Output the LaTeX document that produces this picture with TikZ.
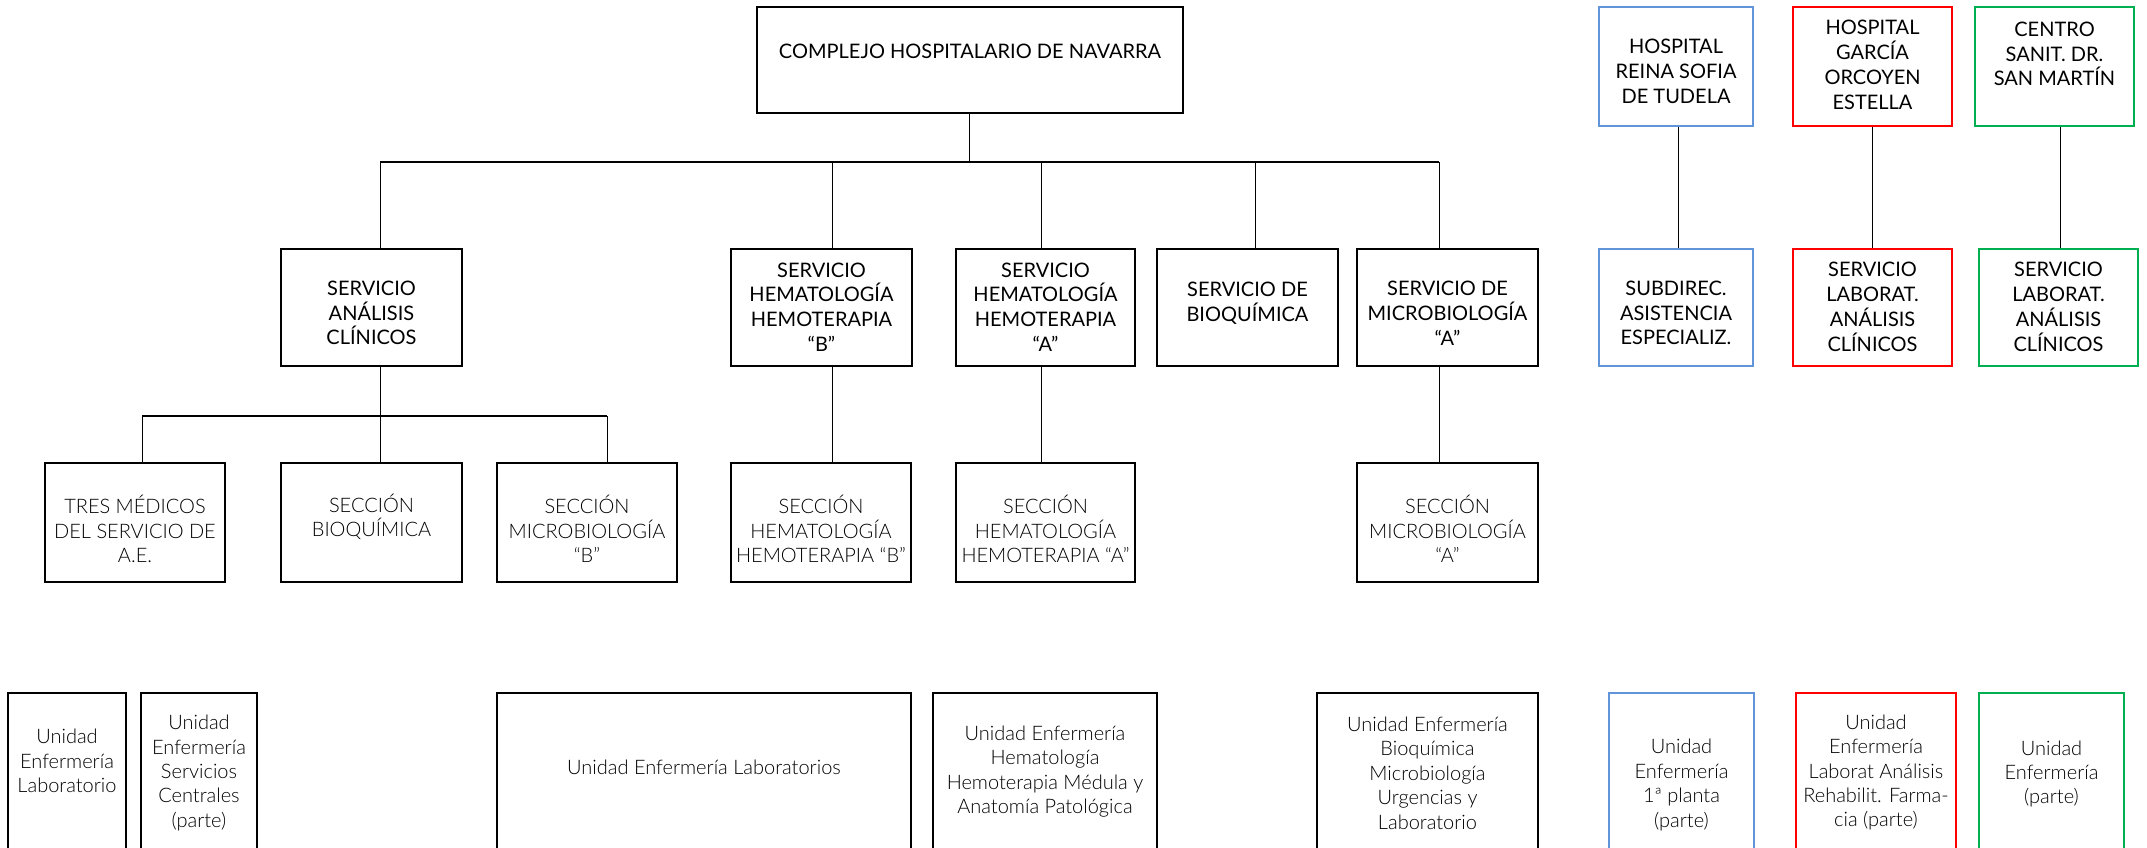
\documentclass[tikz,border=0pt]{standalone}
\usepackage{fontspec}
\setmainfont{Lato}
\newfontfamily\lightfont{Lato Light}
\definecolor{cblue}{RGB}{98,148,218}
\definecolor{cred}{RGB}{255,0,0}
\definecolor{cgreen}{RGB}{0,176,80}
\tikzset{
  box/.style={draw=black, line width=0.9pt, inner sep=0pt, minimum height=#1},
  box/.default=58.5pt,
  txt/.style={align=center, inner sep=0pt, font=\fontsize{10}{12.4}\selectfont},
  ltxt/.style={align=center, inner sep=0pt, font=\fontsize{10}{12.2}\lightfont},
  conn/.style={line width=0.5pt},
  busline/.style={line width=0.8pt},
}
\begin{document}
\begin{tikzpicture}[x=0.5pt,y=-0.5pt]
\useasboundingbox (0,0) rectangle (2147,847);
\clip (0,0) rectangle (2147,847);
% ---------- top level ----------
\node[box=53pt, minimum width=213pt] (top) at (970,60) {};
\node[txt] (ttop) at (970,51) {COMPLEJO HOSPITALARIO DE NAVARRA};
\node[box=59.5pt, draw=cblue, minimum width=77pt] (hr) at (1676,66.5) {};
\node[txt] (thr) at (1676,71.5) {HOSPITAL\\REINA SOFIA\\DE TUDELA};
\node[box=59.5pt, draw=cred, minimum width=79.5pt] (hg) at (1872.5,66.5) {};
\node[txt] (thg) at (1872.5,65) {HOSPITAL\\GARCÍA\\ORCOYEN\\ESTELLA};
\node[box=59.5pt, draw=cgreen, minimum width=79.5pt] (cs) at (2054.5,66.5) {};
\node[txt] (tcs) at (2054.5,54) {CENTRO\\SANIT. DR.\\SAN MARTÍN};
% ---------- level 2 ----------
\node[box, minimum width=90.5pt] (ac) at (371.5,307.5) {};
\node[txt] (tac) at (371.5,313) {SERVICIO\\ANÁLISIS\\CLÍNICOS};
\node[box, minimum width=90.5pt] (hb) at (821.5,307.5) {};
\node[txt] (thb) at (821.5,307) {SERVICIO\\HEMATOLOGÍA\\HEMOTERAPIA\\“B”};
\node[box, minimum width=89.5pt] (ha) at (1045.5,307.5) {};
\node[txt] (tha) at (1045.5,307) {SERVICIO\\HEMATOLOGÍA\\HEMOTERAPIA\\“A”};
\node[box, minimum width=90.5pt] (bq) at (1247.5,307.5) {};
\node[txt] (tbq) at (1247.5,303) {SERVICIO DE\\BIOQUÍMICA};
\node[box, minimum width=90.5pt] (ma) at (1447.5,307.5) {};
\node[txt] (tma) at (1447.5,313) {SERVICIO DE\\MICROBIOLOGÍA\\“A”};
\node[box, draw=cblue, minimum width=77pt] (sd) at (1676,307.5) {};
\node[txt] (tsd) at (1676,313) {SUBDIREC.\\ASISTENCIA\\ESPECIALIZ.};
\node[box, draw=cred, minimum width=79.5pt] (sl) at (1872.5,307.5) {};
\node[txt] (tsl) at (1872.5,307) {SERVICIO\\LABORAT.\\ANÁLISIS\\CLÍNICOS};
\node[box, draw=cgreen, minimum width=79.5pt] (sg) at (2058.5,307.5) {};
\node[txt] (tsg) at (2058.5,307) {SERVICIO\\LABORAT.\\ANÁLISIS\\CLÍNICOS};
% ---------- level 3 ----------
\node[box=59.5pt, minimum width=90pt] (tm) at (135,522.5) {};
\node[ltxt] (ttm) at (135,529) {TRES MÉDICOS\\DEL SERVICIO DE\\A.E.};
\node[box=59.5pt, minimum width=90.5pt] (sb) at (371.5,522.5) {};
\node[ltxt] (tsb) at (371.5,517) {SECCIÓN\\BIOQUÍMICA};
\node[box=59.5pt, minimum width=90pt] (smb) at (587,522.5) {};
\node[ltxt] (tsmb) at (587,529) {SECCIÓN\\MICROBIOLOGÍA\\“B”};
\node[box=59.5pt, minimum width=90pt] (shb) at (821,522.5) {};
\node[ltxt] (tshb) at (821,529) {SECCIÓN\\HEMATOLOGÍA\\HEMOTERAPIA “B”};
\node[box=59.5pt, minimum width=89.5pt] (sha) at (1045.5,522.5) {};
\node[ltxt] (tsha) at (1045.5,529) {SECCIÓN\\HEMATOLOGÍA\\HEMOTERAPIA “A”};
\node[box=59.5pt, minimum width=90.5pt] (sma) at (1447.5,522.5) {};
\node[ltxt] (tsma) at (1447.5,529) {SECCIÓN\\MICROBIOLOGÍA\\“A”};
% ---------- level 4 ----------
\node[box=83.5pt, minimum width=59pt] (u1) at (67,776.5) {};
\node[ltxt] (tu1) at (67,761) {Unidad\\Enfermería\\Laboratorio};
\node[box=83.5pt, minimum width=58pt] (u2) at (199,776.5) {};
\node[ltxt] (tu2) at (199,773) {Unidad\\Enfermería\\Servicios\\Centrales\\(parte)};
\node[box=83.5pt, minimum width=207pt] (u3) at (704,776.5) {};
\node[ltxt] (tu3) at (704,767) {Unidad Enfermería Laboratorios};
\node[box=83.5pt, minimum width=112pt] (u4) at (1045,776.5) {};
\node[ltxt] (tu4) at (1045,771.5) {Unidad Enfermería\\Hematología\\Hemoterapia Médula y\\Anatomía Patológica};
\node[box=83.5pt, minimum width=110.5pt] (u5) at (1427.5,776.5) {};
\node[ltxt] (tu5) at (1427.5,773) {Unidad Enfermería\\Bioquímica\\Microbiología\\Urgencias y\\Laboratorio};
\node[box=83.5pt, draw=cblue, minimum width=72.5pt] (u6) at (1681.5,776.5) {};
\node[ltxt] (tu6) at (1681.5,785) {Unidad\\Enfermería\\1ª planta\\(parte)};
\node[box=83.5pt, draw=cred, minimum width=80pt] (u7) at (1876,776.5) {};
\node[ltxt] (tu7) at (1876,772.5) {Unidad\\Enfermería\\Laborat Análisis\\Rehabilit. Farma-\\cia (parte)};
\node[box=83.5pt, draw=cgreen, minimum width=72.5pt] (u8) at (2051.5,776.5) {};
\node[ltxt] (tu8) at (2051.5,774) {Unidad\\Enfermería\\(parte)};
% ---------- connectors ----------
\coordinate (bT) at (969,162);
\coordinate (dAC) at (380,162);
\coordinate (dHB) at (832,162);
\coordinate (dHA) at (1041,162);
\coordinate (dBQ) at (1255,162);
\coordinate (dMA) at (1439,162);
\draw[conn] (top.south -| bT) -- (bT);
\draw[busline] (dAC) -- (dMA);
\draw[conn] (dAC) -- (dAC |- ac.north);
\draw[conn] (dHB) -- (dHB |- hb.north);
\draw[conn] (dHA) -- (dHA |- ha.north);
\draw[conn] (dBQ) -- (dBQ |- bq.north);
\draw[conn] (dMA) -- (dMA |- ma.north);
% level 3 bus
\coordinate (l3) at (380,416);
\coordinate (dTM) at (142,416);
\coordinate (dSMB) at (607,416);
\draw[conn] (ac.south -| l3) -- (l3);
\draw[busline] (dTM) -- (dSMB);
\draw[conn] (dTM) -- (dTM |- tm.north);
\draw[conn] (l3) -- (l3 |- sb.north);
\draw[conn] (dSMB) -- (dSMB |- smb.north);
\draw[conn] (hb.south -| dHB) -- (shb.north -| dHB);
\draw[conn] (ha.south -| dHA) -- (sha.north -| dHA);
\draw[conn] (ma.south -| dMA) -- (sma.north -| dMA);
% right side
\coordinate (dHR) at (1678,0);
\coordinate (dHG) at (1872,0);
\coordinate (dCS) at (2060,0);
\draw[conn] (hr.south -| dHR) -- (sd.north -| dHR);
\draw[conn] (hg.south -| dHG) -- (sl.north -| dHG);
\draw[conn] (cs.south -| dCS) -- (sg.north -| dCS);
\end{tikzpicture}
\end{document}
